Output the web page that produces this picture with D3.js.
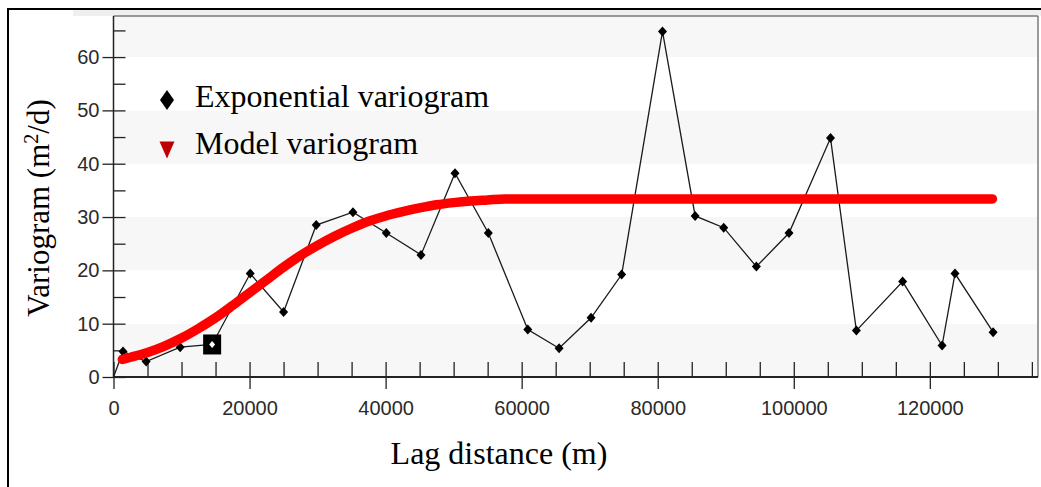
<!DOCTYPE html>
<html>
<head>
<meta charset="utf-8">
<script src="https://cdn.jsdelivr.net/npm/d3@7"></script>
<style>
  html, body { margin: 0; padding: 0; background: #fff; }
  svg { display: block; }
</style>
</head>
<body>
<svg id="chart" width="1041" height="487"></svg>
<script>
// ---- Data ----
// Experimental ("Exponential") variogram points: lag distance (m) and value (m^2/d)
const expLag   = [0, 1400, 4800, 9800, 14500, 20100, 25000, 29800, 35200, 40100, 45200, 50200, 55100, 60900, 65500, 70200, 74700, 80700, 85500, 89700, 94500, 99300, 105400, 109200, 116000, 121800, 123700, 129300];
const expGamma = [0, 4.8, 2.9, 5.6, 6.1, 19.4, 12.2, 28.5, 30.9, 27.0, 22.9, 38.2, 27.0, 8.9, 5.4, 11.1, 19.2, 64.8, 30.2, 28.0, 20.7, 27.0, 44.8, 8.7, 17.9, 5.9, 19.4, 8.4];
const selectedIndex = 4; // highlighted (boxed) point

// Model variogram curve, read along the red band
const modelLag   = [1300, 2500, 5000, 7500, 10000, 12500, 15000, 17500, 20000, 22500, 25000, 27500, 30000, 32500, 35000, 37500, 40000, 42500, 45000, 47500, 50000, 52500, 55000, 57500, 60000, 70000, 80000, 90000, 100000, 110000, 120000, 129200];
const modelGamma = [3.3, 3.7, 4.6, 5.8, 7.3, 9.1, 11.1, 13.4, 15.8, 18.2, 20.6, 22.8, 24.7, 26.4, 27.9, 29.2, 30.2, 31.0, 31.7, 32.3, 32.7, 33.0, 33.2, 33.4, 33.4, 33.4, 33.4, 33.4, 33.4, 33.4, 33.4, 33.4];

// Axis ticks
const xMajorTicks = [0, 20000, 40000, 60000, 80000, 100000, 120000];
const xMinorTicks = [5000, 10000, 15000, 25000, 30000, 35000, 45000, 50000, 55000, 65000, 70000, 75000, 85000, 90000, 95000, 105000, 110000, 115000, 125000, 130000, 135000];
const yMajorTicks = [0, 10, 20, 30, 40, 50, 60];
const yMinorTicks = [5, 15, 25, 35, 45, 55, 65];
const bandEdges   = [0, 10, 20, 30, 40, 50, 60, 67.7];

const legendLabels = ["Exponential variogram", "Model variogram"];
const xTitle = "Lag distance (m)";

// ---- Layout ----
const svg = d3.select("#chart");
const L = 113.5, R = 1038, T = 16, B = 377;
const x = d3.scaleLinear().domain([0, 135900]).range([L, R]);
const y = d3.scaleLinear().domain([0, 67.7]).range([B, T]);

// outer frame (left and top edges visible)
svg.append("rect").attr("x", 73).attr("y", 10).attr("width", 968).attr("height", 6).attr("fill", "#efefef");
svg.append("line").attr("x1", 8).attr("x2", 1041).attr("y1", 9).attr("y2", 9).attr("stroke", "#000").attr("stroke-width", 2);
svg.append("line").attr("x1", 8).attr("x2", 8).attr("y1", 8).attr("y2", 487).attr("stroke", "#000").attr("stroke-width", 2);

// alternating bands
const bands = d3.pairs(bandEdges);
svg.append("g").selectAll("rect").data(bands).join("rect")
  .attr("x", L).attr("width", R - L)
  .attr("y", d => y(d[1])).attr("height", d => y(d[0]) - y(d[1]))
  .attr("fill", (d, i) => i % 2 === 0 ? "#f7f7f7" : "#ffffff");

// plot frame (top + right)
svg.append("line").attr("x1", L).attr("x2", R).attr("y1", T).attr("y2", T).attr("stroke", "#7a7a7a").attr("stroke-width", 1.5);
svg.append("line").attr("x1", R).attr("x2", R).attr("y1", T).attr("y2", B).attr("stroke", "#7a7a7a").attr("stroke-width", 1.5);

// X axis: outward major ticks + labels
const gx = svg.append("g").attr("transform", `translate(0,${B})`)
  .call(d3.axisBottom(x).tickValues(xMajorTicks).tickSize(12).tickPadding(12).tickFormat(d3.format("d")));
gx.select(".domain").remove();
gx.selectAll("line").attr("stroke", "#222").attr("stroke-width", 1.3);
gx.selectAll("text").attr("font-family", "'Liberation Sans', Arial, sans-serif").attr("font-size", 20).attr("fill", "#2a2a2a");

// X axis: inward ticks (major and minor)
const gxIn = svg.append("g").attr("transform", `translate(0,${B})`)
  .call(d3.axisBottom(x).tickValues(xMajorTicks.concat(xMinorTicks)).tickSize(-15).tickFormat(""));
gxIn.select(".domain").remove();
gxIn.selectAll("line").attr("stroke", "#222").attr("stroke-width", 1.3);

// Y axis: outward major ticks + labels
const gy = svg.append("g").attr("transform", `translate(${L},0)`)
  .call(d3.axisLeft(y).tickValues(yMajorTicks).tickSize(11).tickPadding(3).tickFormat(d3.format("d")));
gy.select(".domain").remove();
gy.selectAll("line").attr("stroke", "#222").attr("stroke-width", 1.3);
gy.selectAll("text").attr("font-family", "'Liberation Sans', Arial, sans-serif").attr("font-size", 20).attr("fill", "#2a2a2a");

// Y axis: inward ticks
const gyIn = svg.append("g").attr("transform", `translate(${L},0)`)
  .call(d3.axisLeft(y).tickValues(yMajorTicks.concat(yMinorTicks)).tickSize(-12).tickFormat(""));
gyIn.select(".domain").remove();
gyIn.selectAll("line").attr("stroke", "#222").attr("stroke-width", 1.3);

// axis lines
svg.append("line").attr("x1", L).attr("x2", R).attr("y1", B).attr("y2", B).attr("stroke", "#222").attr("stroke-width", 2);
svg.append("line").attr("x1", L).attr("x2", L).attr("y1", T).attr("y2", B + 1).attr("stroke", "#222").attr("stroke-width", 1.5);

// experimental variogram line
const expData = expLag.map((d, i) => ({ lag: d, g: expGamma[i] }));
svg.append("path").datum(expData)
  .attr("fill", "none").attr("stroke", "#1a1a1a").attr("stroke-width", 1.3)
  .attr("d", d3.line().x(d => x(d.lag)).y(d => y(d.g)));

// selected point box
const sel = expData[selectedIndex];
svg.append("rect").attr("x", x(sel.lag) - 9).attr("y", y(sel.g) - 10).attr("width", 18).attr("height", 20).attr("fill", "#000");
svg.append("path").attr("transform", `translate(${x(sel.lag)},${y(sel.g)})`)
  .attr("d", "M0,-3.5L3,0L0,3.5L-3,0Z").attr("fill", "#fff");

// diamonds
const diamond = "M0,-5L4.5,0L0,5L-4.5,0Z";
svg.append("g").selectAll("path").data(expData.filter((d, i) => i > 0 && i !== selectedIndex)).join("path")
  .attr("transform", d => `translate(${x(d.lag)},${y(d.g)})`)
  .attr("d", diamond).attr("fill", "#000");

// model variogram (thick red band)
const modelData = modelLag.map((d, i) => ({ lag: d, g: modelGamma[i] }));
svg.append("path").datum(modelData)
  .attr("fill", "none").attr("stroke", "#ff0000").attr("stroke-width", 9.5)
  .attr("stroke-linecap", "round").attr("stroke-linejoin", "round")
  .attr("d", d3.line().curve(d3.curveMonotoneX).x(d => x(d.lag)).y(d => y(d.g)));

// legend
const lg = svg.append("g");
lg.append("path").attr("transform", "translate(167,100)").attr("d", "M0,-10L7,0L0,10L-7,0Z").attr("fill", "#000");
lg.append("path").attr("transform", "translate(167,150)").attr("d", "M-7.5,-8.5L7.5,-8.5L0,8.5Z").attr("fill", "#c00000");
lg.selectAll("text").data(legendLabels).join("text")
  .attr("x", 195).attr("y", (d, i) => 107 + i * 47)
  .attr("font-family", "'Liberation Serif', 'Times New Roman', serif").attr("font-size", 32).attr("fill", "#000")
  .text(d => d);

// axis titles
svg.append("text").attr("x", 499).attr("y", 464).attr("text-anchor", "middle")
  .attr("font-family", "'Liberation Serif', 'Times New Roman', serif").attr("font-size", 32).attr("fill", "#000")
  .text(xTitle);

const yt = svg.append("text").attr("transform", "translate(49,208) rotate(-90)").attr("text-anchor", "middle")
  .attr("font-family", "'Liberation Serif', 'Times New Roman', serif").attr("font-size", 31).attr("fill", "#000");
yt.append("tspan").text("Variogram (m");
yt.append("tspan").attr("font-size", 20).attr("dy", -11).text("2");
yt.append("tspan").attr("dy", 11).text("/d)");
</script>
</body>
</html>
